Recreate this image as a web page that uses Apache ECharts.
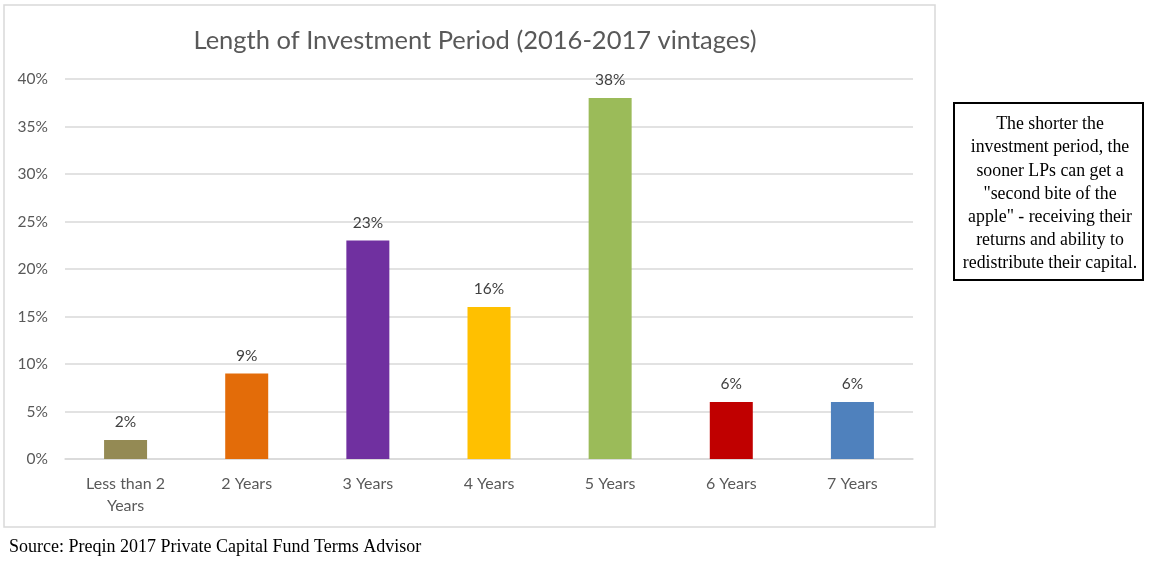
<!DOCTYPE html>
<html>
<head>
<meta charset="utf-8">
<script src="https://cdn.jsdelivr.net/npm/echarts@6/dist/echarts.min.js"></script>
<style>
  html, body { margin: 0; padding: 0; background: #fff; }
  #chart { width: 1149px; height: 566px; }
</style>
</head>
<body>
<div id="chart"></div>
<script>
const categories = ['Less than 2\nYears', '2 Years', '3 Years', '4 Years', '5 Years', '6 Years', '7 Years']
const shares = [2, 9, 23, 16, 38, 6, 6]
const barColors = ['#948a54', '#e36c09', '#7030a0', '#ffc000', '#9bbb59', '#c00000', '#4f81bd']
const noteLines = [
  'The shorter the',
  'investment period, the',
  'sooner LPs can get a',
  '"second bite of the',
  'apple" - receiving their',
  'returns and ability to',
  'redistribute their capital.'
]

const chart = echarts.init(document.getElementById('chart'))

const option = {
  animation: false,
  title: {
    text: 'Length of Investment Period (2016-2017 vintages)',
    left: 470,
    top: 23,
    textAlign: 'center',
    textStyle: {
      fontFamily: 'Lato',
      fontWeight: 'normal',
      fontSize: 25.5,
      color: '#595959'
    }
  },
  grid: {
    left: 65,
    right: 236,
    top: 79,
    bottom: 107
  },
  xAxis: {
    type: 'category',
    data: categories,
    axisLine: { show: true, lineStyle: { color: '#d9d9d9', width: 1.5 } },
    axisTick: { show: false },
    axisLabel: {
      interval: 0,
      margin: 14,
      fontFamily: 'Lato',
      fontSize: 16,
      lineHeight: 22,
      color: '#595959'
    }
  },
  yAxis: {
    type: 'value',
    min: 0,
    max: 40,
    interval: 5,
    axisLine: { show: false },
    axisTick: { show: false },
    splitLine: { lineStyle: { color: '#d9d9d9', width: 1.5 } },
    axisLabel: {
      formatter: '{value}%',
      margin: 17,
      fontFamily: 'Lato',
      fontSize: 15.5,
      color: '#595959'
    }
  },
  series: [
    {
      type: 'bar',
      barWidth: 43,
      data: shares.map((v, i) => ({ value: v, itemStyle: { color: barColors[i] } })),
      label: {
        show: true,
        position: 'top',
        distance: 10,
        formatter: '{c}%',
        fontFamily: 'Lato',
        fontSize: 15.5,
        color: '#404040'
      }
    }
  ],
  graphic: [
    {
      type: 'rect',
      shape: { x: 4, y: 5, width: 931, height: 522 },
      style: { fill: 'none', stroke: '#d9d9d9', lineWidth: 1.5 },
      silent: true
    },
    {
      type: 'rect',
      shape: { x: 954, y: 103, width: 189, height: 177 },
      style: { fill: '#fff', stroke: '#000', lineWidth: 2 },
      silent: true
    },
    {
      type: 'text',
      x: 1050,
      y: 113,
      style: {
        text: noteLines.join('\n'),
        textAlign: 'center',
        textVerticalAlign: 'top',
        fontFamily: 'Liberation Serif',
        fontSize: 17.8,
        lineHeight: 23.2,
        fill: '#000'
      }
    },
    {
      type: 'text',
      x: 9,
      y: 547,
      style: {
        text: 'Source: Preqin 2017 Private Capital Fund Terms Advisor',
        textAlign: 'left',
        textVerticalAlign: 'middle',
        fontFamily: 'Liberation Serif',
        fontSize: 18,
        fill: '#000'
      }
    }
  ]
}

chart.setOption(option)
</script>
</body>
</html>
